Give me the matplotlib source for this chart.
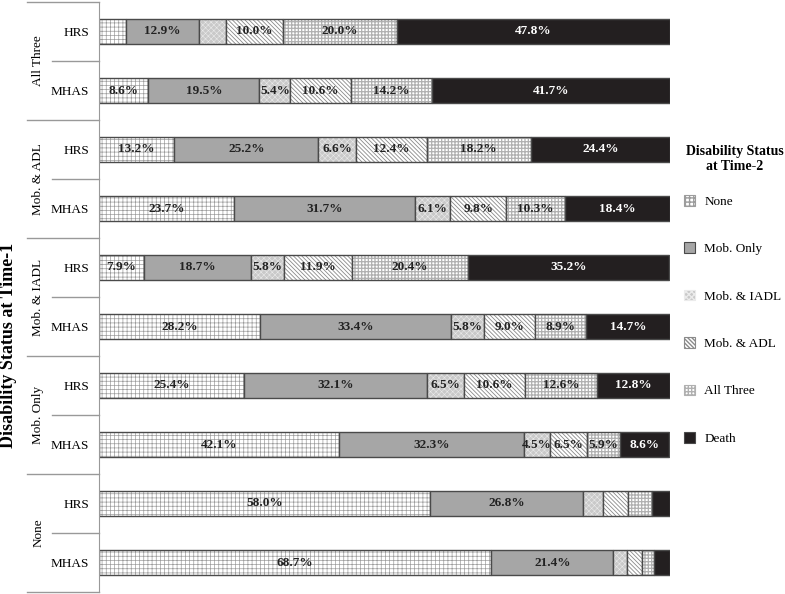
import numpy as np
import matplotlib
matplotlib.use("Agg")
import matplotlib.pyplot as plt
from matplotlib.patches import Patch

plt.rcParams['font.family'] = ['Liberation Serif', 'DejaVu Serif']

# rows from top to bottom: (group at Time-1, study)
groups = ["All Three", "Mob. & ADL", "Mob. & IADL", "Mob. Only", "None"]
studies = ["HRS", "MHAS"]

# status at Time-2, % of each row
none_pct  = [4.7, 8.6, 13.2, 23.7, 7.9, 28.2, 25.4, 42.1, 58.0, 68.7]
mob_only  = [12.9, 19.5, 25.2, 31.7, 18.7, 33.4, 32.1, 32.3, 26.8, 21.4]
mob_iadl  = [4.6, 5.4, 6.6, 6.1, 5.8, 5.8, 6.5, 4.5, 3.4, 2.3]
mob_adl   = [10.0, 10.6, 12.4, 9.8, 11.9, 9.0, 10.6, 6.5, 4.4, 2.7]
all_three = [20.0, 14.2, 18.2, 10.3, 20.4, 8.9, 12.6, 5.9, 4.2, 2.1]
death     = [47.8, 41.7, 24.4, 18.4, 35.2, 14.7, 12.8, 8.6, 3.2, 2.8]

status_names = ["None", "Mob. Only", "Mob. & IADL", "Mob. & ADL", "All Three", "Death"]
series = [none_pct, mob_only, mob_iadl, mob_adl, all_three, death]

# segments printed without a number in the figure (row, series)
unlabeled = {(0, 0), (0, 2), (8, 2), (8, 3), (8, 4), (8, 5),
             (9, 2), (9, 3), (9, 4), (9, 5)}

# facecolor, hatch, hatch colour, hatch width
styles = [
    ("white", "++++", "#9c9c9c", 0.5),
    ("#a6a6a6", None, "#a6a6a6", 0.5),
    ("#c9c9c9", "xxxxxx", "#ebebeb", 0.4),
    ("white", "\\" * 8, "#8a8a8a", 0.6),
    ("white", "+++++", "#b0b0b0", 0.9),
    ("#231f20", None, "#231f20", 0.5),
]
edge = "#4a4a4a"

fig = plt.figure(figsize=(7.85, 5.94), dpi=100)
ax = fig.add_axes([99/785, 2/594, 571/785, 590/594])

y = np.arange(len(none_pct))
left = np.zeros(len(y))
for k, vals in enumerate(series):
    vals = np.array(vals)
    fc, hatch, hc, hlw = styles[k]
    with plt.rc_context({'hatch.linewidth': hlw}):
        ax.barh(y, vals, left=left, height=0.41, color=fc, hatch=hatch,
                edgecolor=hc, linewidth=0)
    ax.barh(y, vals, left=left, height=0.41, fill=False, edgecolor=edge, linewidth=1.0)
    for i, v in enumerate(vals):
        if (i, k) in unlabeled:
            continue
        ax.text(left[i] + v/2, y[i], f"{v:.1f}%", ha='center', va='center',
                fontsize=9.5, fontweight='bold',
                color='white' if k == 5 else '#222222')
    left += vals

ax.set_xlim(0, 100)
ax.set_ylim(len(y) - 0.5, -0.5)
ax.set_xticks([])
ax.set_yticks(y)
ax.set_yticklabels(studies * len(groups), fontsize=9.5)
ax.tick_params(axis='y', length=0, pad=7)
for s in ['top', 'right', 'bottom']:
    ax.spines[s].set_visible(False)
ax.spines['left'].set_color('#999999')

tr = ax.get_yaxis_transform()
for g in range(len(groups) + 1):
    ax.plot([-0.126, 0], [2*g - 0.5]*2, color='#999999', lw=1, transform=tr, clip_on=False)
for g, name in enumerate(groups):
    ax.plot([-0.082, 0], [2*g + 0.5]*2, color='#999999', lw=1, transform=tr, clip_on=False)
    ax.text(-0.106, 2*g + 0.5, name, rotation=90, ha='center', va='center',
            fontsize=9.5, transform=tr)

fig.text(9/785, 1 - 345/594, "Disability Status at Time-1", rotation=90,
         ha='center', va='center', fontsize=13, fontweight='bold')

# legend title drawn on its own so the gap to the first entry matches
fig.text(735/785, 1 - 159/594, "Disability Status\nat Time-2", ha='center', va='center',
         multialignment='center', fontsize=10, fontweight='bold')

handles = [Patch(facecolor=st[0], hatch=st[1], edgecolor=edge if st[1] is None else st[2])
           for st in styles]
leg = fig.legend(handles, status_names, loc='upper left',
                 bbox_to_anchor=(684/785, 1 - 195/594), frameon=False,
                 fontsize=9.5, handlelength=0.85, handleheight=0.85,
                 handletextpad=0.7, labelspacing=2.62, borderpad=0, borderaxespad=0)
for p in leg.get_patches():
    p.set_linewidth(0.8)

fig.savefig("out.png", dpi=100)
